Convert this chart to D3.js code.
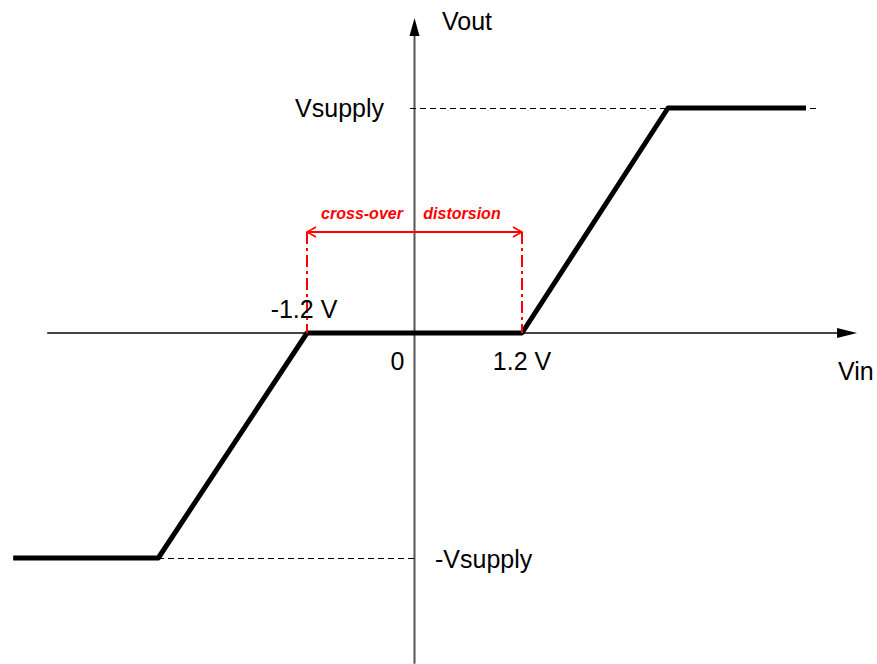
<!DOCTYPE html>
<html>
<head>
<meta charset="utf-8">
<script src="https://cdn.jsdelivr.net/npm/d3@7"></script>
<style>
  body { margin: 0; background: #fff; }
  text { font-family: 'Liberation Sans', Arial, sans-serif; }
</style>
</head>
<body>
<div id="chart"></div>
<script>
// transfer characteristic, Vin in volts, Vout in units of Vsupply
let curveVin  = [-4.48, -2.86, -1.2, 1.2, 2.83, 4.37];
let curveVout = [-1, -1, 0, 0, 1, 1];
let deadZone = [-1.2, 1.2];
let xAxisExtent = [-4.1, 4.94];
let yAxisExtent = [-1.47, 1.4];
let supplyLevels = [1, -1];
let supplyLabels = ['Vsupply', '-Vsupply'];

let width = 877, height = 664;

let svg = d3.select('#chart')
  .append('svg')
    .attr('width', width)
    .attr('height', height);

let x = d3.scaleLinear().domain([-1.2, 1.2]).range([307, 522]);
let y = d3.scaleLinear().domain([-1, 1]).range([558, 108]);

// axes
svg.append('line')
  .attr('x1', x(xAxisExtent[0])).attr('x2', x(xAxisExtent[1]) - 16)
  .attr('y1', y(0)).attr('y2', y(0))
  .attr('stroke', '#444').attr('stroke-width', 2);
svg.append('path')
  .attr('d', 'M' + x(xAxisExtent[1]) + ',' + y(0) + 'l-20,-5l0,10z')
  .attr('fill', '#000');

svg.append('line')
  .attr('x1', x(0)).attr('x2', x(0))
  .attr('y1', y(yAxisExtent[0])).attr('y2', y(yAxisExtent[1]) + 15)
  .attr('stroke', '#555').attr('stroke-width', 2);
svg.append('path')
  .attr('d', 'M' + x(0) + ',' + y(yAxisExtent[1]) + 'l-5,18l10,0z')
  .attr('fill', '#000');

// supply dashed guides
svg.append('line')
  .attr('x1', x(-0.05)).attr('x2', x(4.48))
  .attr('y1', y(1) + 0.5).attr('y2', y(1) + 0.5)
  .attr('stroke', '#000').attr('stroke-width', 1)
  .attr('shape-rendering', 'crispEdges')
  .attr('stroke-dasharray', '6,4');
svg.append('line')
  .attr('x1', x(-2.86)).attr('x2', x(0.04))
  .attr('y1', y(-1) + 0.5).attr('y2', y(-1) + 0.5)
  .attr('stroke', '#000').attr('stroke-width', 1)
  .attr('shape-rendering', 'crispEdges')
  .attr('stroke-dasharray', '6,4');

// curve
let pts = curveVin.map((v, i) => [x(v), y(curveVout[i])]);
svg.append('path')
  .attr('d', d3.line()(pts))
  .attr('fill', 'none')
  .attr('stroke', '#000')
  .attr('stroke-width', 5)
  .attr('stroke-linejoin', 'round');

// cross-over distortion marker
let red = '#ff0000';
svg.selectAll('dd')
  .data(deadZone)
  .enter()
  .append('line')
    .attr('x1', d => x(d)).attr('x2', d => x(d))
    .attr('y1', 232).attr('y2', y(0))
    .attr('stroke', red).attr('stroke-width', 2)
    .attr('stroke-dasharray', '12,4,3,4');
svg.append('line')
  .attr('x1', x(deadZone[0])).attr('x2', x(deadZone[1]))
  .attr('y1', 232).attr('y2', 232)
  .attr('stroke', red).attr('stroke-width', 2);
svg.append('path')
  .attr('d', 'M' + (x(deadZone[0]) + 9) + ',227L' + x(deadZone[0]) + ',232L' + (x(deadZone[0]) + 9) + ',237' +
             'M' + (x(deadZone[1]) - 9) + ',227L' + x(deadZone[1]) + ',232L' + (x(deadZone[1]) - 9) + ',237')
  .attr('fill', 'none').attr('stroke', red).attr('stroke-width', 1.5);

svg.append('text')
  .attr('x', 362).attr('y', 219)
  .attr('text-anchor', 'middle')
  .attr('font-size', 16).attr('font-weight', 'bold').attr('font-style', 'italic')
  .attr('fill', red)
  .text('cross-over');
svg.append('text')
  .attr('x', 462).attr('y', 219)
  .attr('text-anchor', 'middle')
  .attr('font-size', 16).attr('font-weight', 'bold').attr('font-style', 'italic')
  .attr('fill', red)
  .text('distorsion');

// labels
svg.append('text')
  .attr('x', 442).attr('y', 30)
  .attr('font-size', 25)
  .text('Vout');
svg.append('text')
  .attr('x', 838).attr('y', 380)
  .attr('font-size', 25)
  .text('Vin');
svg.append('text')
  .attr('x', 384).attr('y', y(supplyLevels[0]) + 9)
  .attr('text-anchor', 'end')
  .attr('font-size', 25)
  .text(supplyLabels[0]);
svg.append('text')
  .attr('x', 435).attr('y', y(supplyLevels[1]) + 10)
  .attr('font-size', 25)
  .text(supplyLabels[1]);

svg.append('text')
  .attr('x', x(deadZone[0]) - 3).attr('y', y(0) - 15)
  .attr('text-anchor', 'middle')
  .attr('font-size', 25)
  .text('-1.2 V');
svg.append('text')
  .attr('x', x(deadZone[1])).attr('y', y(0) + 37)
  .attr('text-anchor', 'middle')
  .attr('font-size', 25)
  .text('1.2 V');
svg.append('text')
  .attr('x', x(0) - 10).attr('y', y(0) + 37)
  .attr('text-anchor', 'end')
  .attr('font-size', 25)
  .text('0');
</script>
</body>
</html>
